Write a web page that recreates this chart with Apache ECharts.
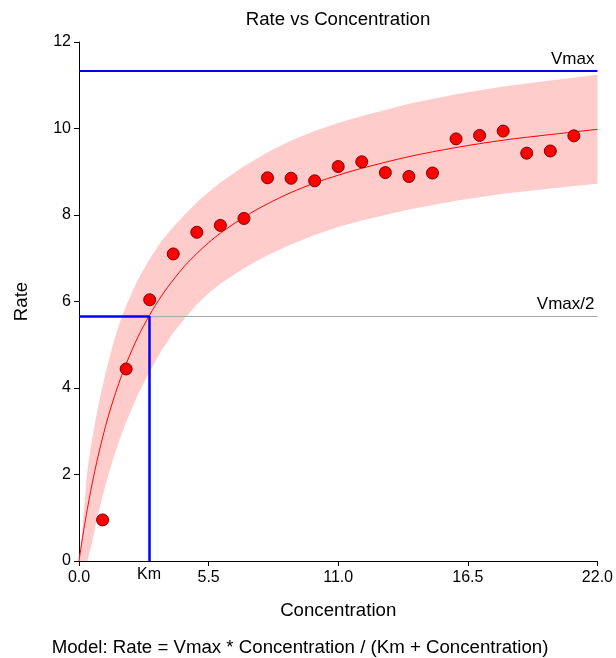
<!DOCTYPE html>
<html>
<head>
<meta charset="utf-8">
<script src="https://cdn.jsdelivr.net/npm/echarts@6/dist/echarts.min.js"></script>
<style>
  html, body { margin: 0; padding: 0; background: #fff; }
  #chart { width: 616px; height: 658px; }
</style>
</head>
<body>
<div id="chart"></div>
<script>
// observed points
const concentration = [1, 2, 3, 4, 5, 6, 7, 8, 9, 10, 11, 12, 13, 14, 15, 16, 17, 18, 19, 20, 21];
const rate = [0.95, 4.44, 6.04, 7.10, 7.60, 7.76, 7.92, 8.86, 8.85, 8.79, 9.12, 9.23, 8.98, 8.89, 8.97, 9.76, 9.84, 9.94, 9.43, 9.48, 9.83];

// fitted curve and its band
const fitX = [0, 0.1, 0.2, 0.35, 0.5, 0.75, 1, 1.25, 1.5, 1.75, 2, 2.5, 3, 3.5, 4, 4.5, 5, 5.5, 6, 7, 8, 9, 10, 11, 12, 14, 16, 18, 20, 22];
const fitRate = [0, 0.37, 0.71, 1.19, 1.63, 2.28, 2.85, 3.36, 3.80, 4.20, 4.56, 5.18, 5.69, 6.13, 6.50, 6.83, 7.11, 7.36, 7.58, 7.95, 8.26, 8.52, 8.74, 8.92, 9.08, 9.35, 9.56, 9.73, 9.86, 9.98];
const bandUpper = [0, 0.45, 1.12, 2.07, 2.65, 3.40, 4.05, 4.62, 5.12, 5.55, 5.91, 6.51, 6.99, 7.40, 7.72, 8.02, 8.29, 8.53, 8.75, 9.13, 9.45, 9.72, 9.94, 10.13, 10.29, 10.57, 10.79, 10.97, 11.11, 11.24];
const bandLower = [0, 0, 0, 0, 0.30, 0.95, 1.50, 2.00, 2.45, 2.85, 3.21, 3.85, 4.39, 4.86, 5.28, 5.62, 5.93, 6.19, 6.41, 6.77, 7.07, 7.32, 7.54, 7.72, 7.87, 8.13, 8.33, 8.49, 8.61, 8.72];

const vmax = 11.33;
const halfVmax = 5.665;
const km = 2.97;

const xTicks = [0, 5.5, 11, 16.5, 22];
const yTicks = [0, 2, 4, 6, 8, 10, 12];

const FONT = 'Liberation Sans';
const chart = echarts.init(document.getElementById('chart'));

const bandData = fitX.map((x, i) => [x, bandLower[i], bandUpper[i]]);

const option = {
  animation: false,
  textStyle: { fontFamily: FONT },
  grid: { left: 79, right: 18, top: 42, bottom: 97 },
  graphic: [
    {
      type: 'text', x: 338, y: 20,
      style: { text: 'Rate vs Concentration', font: '18.67px "Liberation Sans"', fill: '#000', textAlign: 'center', textVerticalAlign: 'middle' }
    },
    {
      type: 'text', x: 300, y: 648,
      style: { text: 'Model: Rate = Vmax * Concentration / (Km + Concentration)', font: '18.67px "Liberation Sans"', fill: '#000', textAlign: 'center', textVerticalAlign: 'middle' }
    }
  ],
  xAxis: {
    type: 'value',
    min: xTicks[0],
    max: xTicks[xTicks.length - 1],
    interval: xTicks[1] - xTicks[0],
    name: 'Concentration',
    nameLocation: 'middle',
    nameGap: 40,
    nameTextStyle: { fontSize: 18.67, color: '#000', fontFamily: FONT },
    axisLine: { show: true, lineStyle: { color: '#000', width: 1 } },
    axisTick: { show: true, length: 5, lineStyle: { color: '#000' } },
    axisLabel: { color: '#000', fontSize: 16, margin: 9, formatter: v => v.toFixed(1) },
    splitLine: { show: false }
  },
  yAxis: {
    type: 'value',
    min: yTicks[0],
    max: yTicks[yTicks.length - 1],
    interval: yTicks[1] - yTicks[0],
    name: 'Rate',
    nameLocation: 'middle',
    nameGap: 48,
    nameTextStyle: { fontSize: 18.67, color: '#000', fontFamily: FONT },
    axisLine: { show: true, lineStyle: { color: '#000', width: 1 } },
    axisTick: { show: true, length: 5, lineStyle: { color: '#000' } },
    axisLabel: { color: '#000', fontSize: 16, margin: 8 },
    splitLine: { show: false }
  },
  series: [
    {
      // band
      type: 'custom',
      silent: true,
      z: 1,
      data: bandData,
      encode: { x: 0, y: [1, 2] },
      renderItem: function (params, api) {
        if (params.dataIndex !== 0) return null;
        const top = bandData.map(d => api.coord([d[0], d[2]]));
        const bottom = bandData.map(d => api.coord([d[0], d[1]])).reverse();
        return {
          type: 'polygon',
          shape: { points: top.concat(bottom) },
          style: { fill: '#ffcccc' }
        };
      }
    },
    {
      // fitted curve
      type: 'line',
      z: 2,
      data: fitX.map((x, i) => [x, fitRate[i]]),
      smooth: 0.3,
      symbol: 'none',
      lineStyle: { color: '#ff0000', width: 1 }
    },
    {
      // Vmax, Vmax/2 and Km guides
      type: 'line',
      z: 3,
      data: [],
      symbol: 'none',
      markLine: {
        silent: true,
        symbol: 'none',
        animation: false,
        data: [
          {
            yAxis: vmax,
            lineStyle: { color: '#0000ff', width: 2, type: 'solid' },
            label: { show: true, position: 'insideEndTop', formatter: 'Vmax', color: '#000', fontSize: 17, fontFamily: FONT, distance: 3 }
          },
          {
            yAxis: halfVmax,
            lineStyle: { color: '#a8a8a8', width: 1, type: 'solid' },
            label: { show: true, position: 'insideEndTop', formatter: 'Vmax/2', color: '#000', fontSize: 17, fontFamily: FONT, distance: 3 }
          },
          [
            { coord: [0, halfVmax], lineStyle: { color: '#0000ff', width: 2.5, type: 'solid' }, label: { show: false } },
            { coord: [km, halfVmax] }
          ],
          [
            { coord: [km, 0], lineStyle: { color: '#0000ff', width: 2.5, type: 'solid' }, label: { show: true, position: 'start', formatter: 'Km', color: '#000', fontSize: 16, fontFamily: FONT, distance: 6 } },
            { coord: [km, halfVmax] }
          ]
        ]
      }
    },
    {
      // observations
      type: 'scatter',
      z: 4,
      data: concentration.map((x, i) => [x, rate[i]]),
      symbol: 'circle',
      symbolSize: 12,
      itemStyle: { color: '#ff0000', borderColor: '#7a0000', borderWidth: 1, opacity: 1 }
    }
  ]
};

chart.setOption(option);
</script>
</body>
</html>
